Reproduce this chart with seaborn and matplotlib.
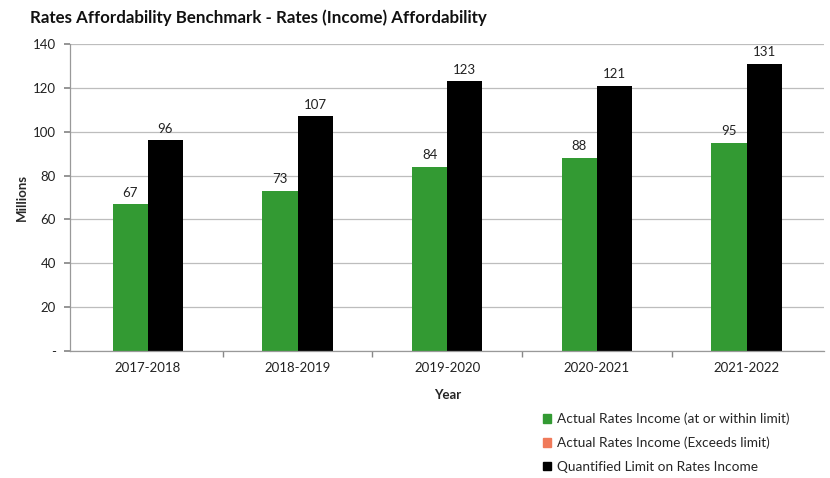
import matplotlib
matplotlib.use("Agg")
import matplotlib.pyplot as plt
import matplotlib.patches as mpatches
import seaborn as sns
import pandas as pd

years = ["2017-2018", "2018-2019", "2019-2020", "2020-2021", "2021-2022"]
actual_income = [67, 73, 84, 88, 95]
quantified_limit = [96, 107, 123, 121, 131]
series_names = ["Actual Rates Income (at or within limit)",
                "Actual Rates Income (Exceeds limit)",
                "Quantified Limit on Rates Income"]
y_ticks = [0, 20, 40, 60, 80, 100, 120, 140]
y_tick_labels = ["-", "20", "40", "60", "80", "100", "120", "140"]

colors = {series_names[0]: "#339a33", series_names[1]: "#f07a5a", series_names[2]: "#000000"}

df = pd.DataFrame({
    "Year": years * 2,
    "Value": actual_income + quantified_limit,
    "Series": [series_names[0]] * len(years) + [series_names[2]] * len(years),
})

sns.set_theme(style="white")
plt.rcParams["font.family"] = ["Lato", "DejaVu Sans"]

fig = plt.figure(figsize=(8.3, 4.78), dpi=100)
ax = fig.add_axes([0.0843, 0.2657, 0.909, 0.6423])

sns.barplot(data=df, x="Year", y="Value", hue="Series", order=years,
            hue_order=[series_names[0], series_names[2]],
            palette=colors, width=0.47, gap=0, saturation=1, ax=ax,
            legend=False, edgecolor="none")

for cont in ax.containers:
    ax.bar_label(cont, fmt="%d", padding=4, fontsize=9.5, color="#222222")

ax.set_ylim(0, 140)
ax.set_xlim(-0.52, 4.52)
ax.set_yticks(y_ticks)
ax.set_yticklabels(y_tick_labels, fontsize=9.5, color="#222222")
ax.yaxis.grid(True, color="#bdbdbd", linewidth=0.9)
ax.set_axisbelow(True)
ax.tick_params(axis="y", length=4, color="#888888", direction="out", left=True, pad=6)
ax.tick_params(axis="x", length=0, labelsize=9.5, labelcolor="#222222", pad=8)
ax.set_xticks([0.5, 1.5, 2.5, 3.5], minor=True)
ax.tick_params(axis="x", which="minor", length=4, color="#888888", bottom=True, direction="out")

for s in ["top", "right"]:
    ax.spines[s].set_visible(False)
for s in ["left", "bottom"]:
    ax.spines[s].set_color("#999999")
    ax.spines[s].set_linewidth(0.9)

ax.set_xlabel("Year", fontsize=9.5, fontweight="bold", labelpad=11)
ax.set_ylabel("Millions", fontsize=9.5, fontweight="bold", labelpad=4)

fig.text(0.036, 0.963, "Rates Affordability Benchmark - Rates (Income) Affordability",
         fontsize=12.2, fontweight="bold", va="center", ha="left", color="#111111")

handles = [mpatches.Patch(color=colors[n], label=n) for n in series_names]
fig.legend(handles=handles, loc="upper left", bbox_to_anchor=(0.648, 0.148),
           frameon=False, fontsize=9.8, handlelength=0.6, handleheight=0.6,
           handletextpad=0.4, labelspacing=0.85, borderaxespad=0)

fig.savefig("out.png", dpi=100)
